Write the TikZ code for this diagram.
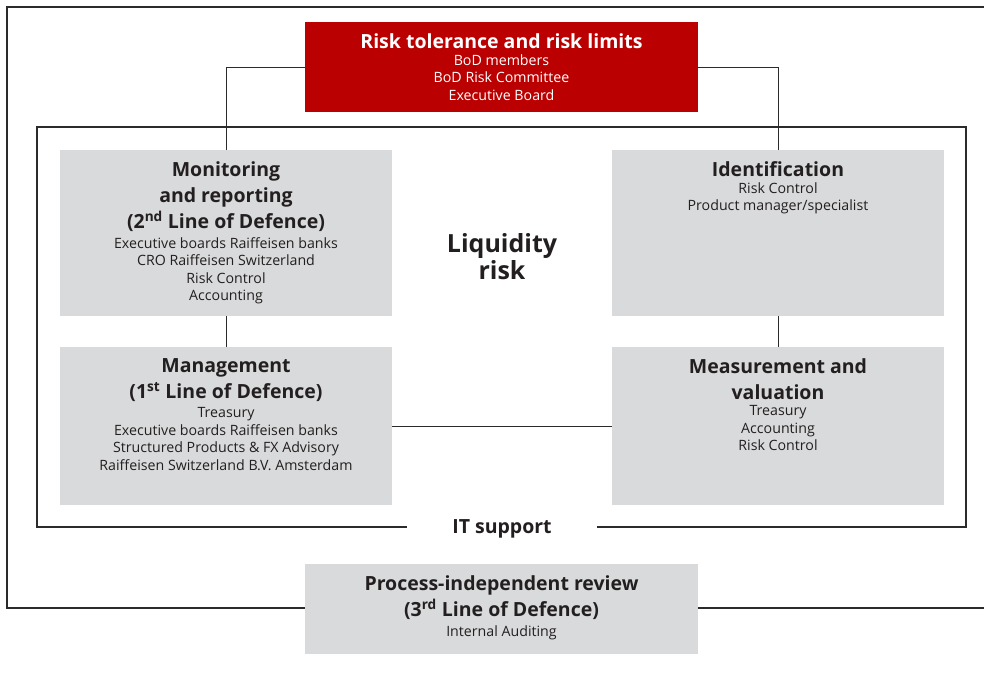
\documentclass[tikz,border=0pt]{standalone}
\usepackage{fontspec}
\setmainfont{Open Sans}
\usetikzlibrary{positioning}

\definecolor{riskred}{HTML}{BA0000}
\definecolor{boxgray}{HTML}{D9DADB}
\definecolor{linegray}{HTML}{2B2B2B}
\definecolor{textdark}{HTML}{231F20}

\tikzset{
  frame/.style={draw=linegray, line width=1.3pt},
  link/.style={draw=linegray, line width=1pt},
  graybox/.style={fill=boxgray, minimum width=332pt, inner sep=0pt},
  widebox/.style={minimum width=393pt, minimum height=90pt, inner sep=0pt},
  boxtitle/.style={font=\bfseries\fontsize{19.5}{26}\selectfont, align=center, inner sep=0pt, text=textdark},
  boxsub/.style={font=\fontsize{14.2}{17.5}\selectfont, align=center, inner sep=0pt, text=textdark},
}

\begin{document}
\begin{tikzpicture}[x=1pt, y=-1pt]
  \clip (0,0) rectangle (984,677);

  % Frames
  \draw[frame] (7,7) rectangle (1000,608);
  \draw[frame] (37,127) rectangle (966,527);

  % Boxes
  \node[widebox, fill=riskred] (risk) at (501.5,67) {};
  \node[graybox, minimum height=166pt] (mon) at (226,233) {};
  \node[graybox, minimum height=166pt] (ident) at (778,233) {};
  \node[graybox, minimum height=158pt] (man) at (226,426) {};
  \node[graybox, minimum height=158pt] (meas) at (778,426) {};
  \node[widebox, fill=boxgray] (review) at (501.5,609) {};

  % Connectors
  \draw[link] (risk.west) -| (mon.north);
  \draw[link] (risk.east) -| (ident.north);
  \draw[link] (mon.south) -- (man.north);
  \draw[link] (ident.south) -- (meas.north);
  \draw[link] (man.east) -- (meas.west);

  % Texts
  \node[boxtitle, text=white, below=12pt of risk.north] (risktitle) {Risk tolerance and risk limits};
  \node[boxsub, text=white, below=5pt of risktitle] (risksub) {BoD members\\BoD Risk Committee\\Executive Board};

  \node[boxtitle, below=12pt of mon.north] (montitle) {Monitoring\\and reporting\\(2\textsuperscript{nd} Line of Defence)};
  \node[boxsub, below=5pt of montitle] (monsub) {Executive boards Raiffeisen banks\\CRO Raiffeisen Switzerland\\Risk Control\\Accounting};

  \node[boxtitle, below=12pt of ident.north] (identtitle) {Identification};
  \node[boxsub, below=5pt of identtitle] (identsub) {Risk Control\\Product manager/specialist};

  \node[boxtitle, below=12pt of man.north] (mantitle) {Management\\(1\textsuperscript{st} Line of Defence)};
  \node[boxsub, below=5pt of mantitle] (mansub) {Treasury\\Executive boards Raiffeisen banks\\Structured Products \& FX Advisory\\Raiffeisen Switzerland B.V. Amsterdam};

  \node[boxtitle, below=12pt of meas.north] (meastitle) {Measurement and\\valuation};
  \node[boxsub, below=5pt of meastitle] (meassub) {Treasury\\Accounting\\Risk Control};

  \node[boxtitle, below=12pt of review.north] (reviewtitle) {Process-independent review\\(3\textsuperscript{rd} Line of Defence)};
  \node[boxsub, below=5pt of reviewtitle] (reviewsub) {Internal Auditing};

  \node[boxtitle, font=\bfseries\fontsize{25}{27}\selectfont] (liquidity) at (502,257) {Liquidity\\risk};
  \node[boxtitle, fill=white, minimum width=190pt, minimum height=20pt] (itsupport) at (502,529) {IT support};
\end{tikzpicture}
\end{document}
